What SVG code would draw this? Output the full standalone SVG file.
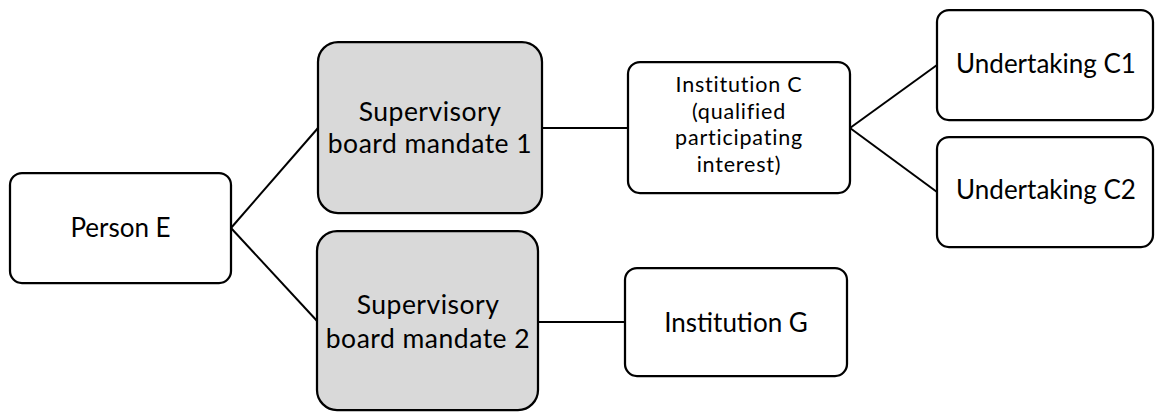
<svg xmlns="http://www.w3.org/2000/svg" width="1155" height="412" viewBox="0 0 1155 412">
<style>
.box{fill:#ffffff;stroke:#000000;stroke-width:2.25}
.grey{fill:#d9d9d9;stroke:#000000;stroke-width:2.25}
.lbl{font-family:Lato,"Open Sans",sans-serif;font-size:26px;fill:#000000;text-anchor:middle}
.sup{font-size:26.5px;letter-spacing:0.5px}
.small{font-size:21.5px;letter-spacing:0.8px}
.con{stroke:#000000;stroke-width:2;fill:none}
</style>
<rect width="1155" height="412" fill="#ffffff"/>
<g id="connectors">
<line class="con" x1="231" y1="228" x2="318" y2="128"/>
<line class="con" x1="231" y1="228" x2="318" y2="322"/>
<line class="con" x1="542" y1="128" x2="628" y2="128"/>
<line class="con" x1="538" y1="322" x2="625" y2="322"/>
<line class="con" x1="850" y1="128" x2="937" y2="65"/>
<line class="con" x1="850" y1="128" x2="937" y2="192"/>
</g>
<g id="personE">
<rect class="box" x="10" y="173" width="221" height="110" rx="12"/>
<text class="lbl" x="120.5" y="237">Person E</text>
</g>
<g id="mandate1">
<rect class="grey" x="318" y="42" width="224" height="171" rx="20"/>
<text class="lbl sup" x="430" y="121">Supervisory</text>
<text class="lbl sup" x="430" y="153">board mandate 1</text>
</g>
<g id="mandate2">
<rect class="grey" x="317" y="231" width="221" height="179" rx="20"/>
<text class="lbl sup" x="428" y="314">Supervisory</text>
<text class="lbl sup" x="428" y="348">board mandate 2</text>
</g>
<g id="institutionC">
<rect class="box" x="628" y="62" width="222" height="131" rx="12"/>
<text class="lbl small" x="739" y="92">Institution C</text>
<text class="lbl small" x="739" y="118.5">(qualified</text>
<text class="lbl small" x="739" y="145">participating</text>
<text class="lbl small" x="739" y="171.5">interest)</text>
</g>
<g id="institutionG">
<rect class="box" x="625" y="268" width="222" height="108" rx="12"/>
<text class="lbl" x="736" y="332">Institution G</text>
</g>
<g id="undertakingC1">
<rect class="box" x="937" y="10" width="216" height="110" rx="12"/>
<text class="lbl" x="1046" y="73">Undertaking C1</text>
</g>
<g id="undertakingC2">
<rect class="box" x="937" y="137" width="216" height="110" rx="12"/>
<text class="lbl" x="1046" y="199">Undertaking C2</text>
</g>
</svg>
